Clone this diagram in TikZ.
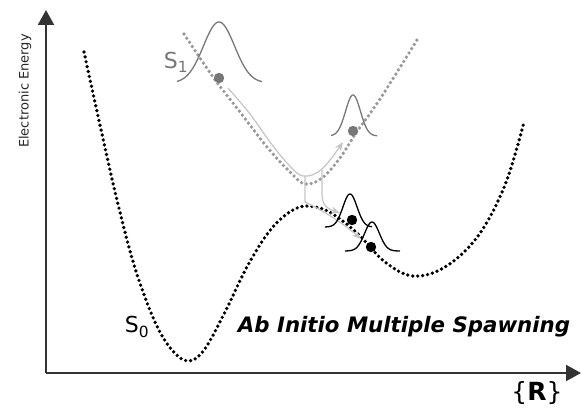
\documentclass[tikz,border=0pt]{standalone}
\usepackage{fontspec}
\setmainfont{DejaVu Sans}
\usetikzlibrary{arrows.meta}
\definecolor{axisc}{HTML}{333333}
\definecolor{sonec}{HTML}{999999}
\definecolor{gausc}{HTML}{777777}
\definecolor{trajc}{HTML}{C4C4C4}
\tikzset{
  axisline/.style={draw=axisc,line width=2pt,-{Triangle[length=15pt,width=16pt]}},
  szero/.style={draw=black,line width=3.7pt,line cap=round,dash pattern=on 0pt off 5pt},
  sone/.style={draw=sonec,line width=3.7pt,line cap=round,dash pattern=on 0pt off 5pt},
  traj/.style={draw=trajc,line width=1.2pt,-{Stealth[length=9pt,width=7pt]}},
  gaus/.style={line width=1.3pt},
}
\begin{document}
\begin{tikzpicture}[x=1pt,y=-1pt]
\useasboundingbox (0,0) rectangle (582,409);
% axes
\coordinate (O) at (46,373);
\coordinate (Ytip) at (46,10);
\coordinate (Xtip) at (581,373);
\draw[axisline] (O) -- (Ytip);
\draw[axisline] (O) -- (Xtip);
\node[rotate=90,font=\fontsize{13}{15}\selectfont,text=black!85] (ylab) at (25,91) {Electronic Energy};
\node[font=\fontsize{25}{28}\selectfont] (xlab) at (537,393) {\{\textbf{R}\}};
% S0
\draw[szero] plot[smooth,tension=0.6] coordinates {(84,52) (100,125) (117,200) (135,268) (155,322) (172,350) (188,361) (204,350) (225,312) (248,265) (272,228) (297,208) (320,208) (340,219) (360,236) (385,262) (413,276) (445,267) (478,236) (505,185) (524,122)};
% S1
\draw[sone] plot[smooth,tension=0.6] coordinates {(184,34) (213,77) (240,112) (267,147) (290,172) (305,184) (322,178) (340,158) (356,133) (380,99) (417,40)};
% labels
\node[text=gausc,font=\fontsize{22}{24}\selectfont] (s1) at (176,62) {S\textsubscript{1}};
\node[font=\fontsize{22}{24}\selectfont] (s0) at (137,327) {S\textsubscript{0}};
\node[font=\fontsize{21.3}{24}\selectfont\bfseries\itshape] (title) at (404,327) {Ab Initio Multiple Spawning};
% trajectory on S1
\draw[traj] plot[smooth,tension=0.6] coordinates {(228,88) (250,114) (270,142) (288,164) (303,176) (322,169) (343,142)};
% spawned trajectories
\coordinate (spA) at (305,176);
\coordinate (spB) at (322,170);
\coordinate (endA) at (361,239);
\coordinate (endB) at (340,213);
\draw[traj] (spA) -- (305,202) .. controls (318,208) and (342,222) .. (endA);
\draw[traj] (spB) -- (322,194) .. controls (322,206) and (328,209) .. (endB);
% gaussians
\draw[gaus,draw=gausc] plot[domain=-42:43,samples=60] ({219+\x},{83-61*exp(-(\x/22)^2)});
\draw[gaus,draw=gausc] plot[domain=-22:24,samples=50] ({353+\x},{136-41*exp(-(\x/10.5)^2)});
\draw[gaus,draw=black] plot[domain=-25:22,samples=50] ({350+\x},{227-33*exp(-(\x/10)^2)});
\draw[gaus,draw=black] plot[domain=-27:28,samples=50] ({372+\x},{251-29*exp(-(\x/10.5)^2)});
% wavepacket centres
\fill[gausc] (219,78) circle (5.2);
\fill[gausc] (353,131) circle (5.2);
\fill[black] (352,220) circle (5.2);
\fill[black] (371,247) circle (5.2);
\end{tikzpicture}
\end{document}
